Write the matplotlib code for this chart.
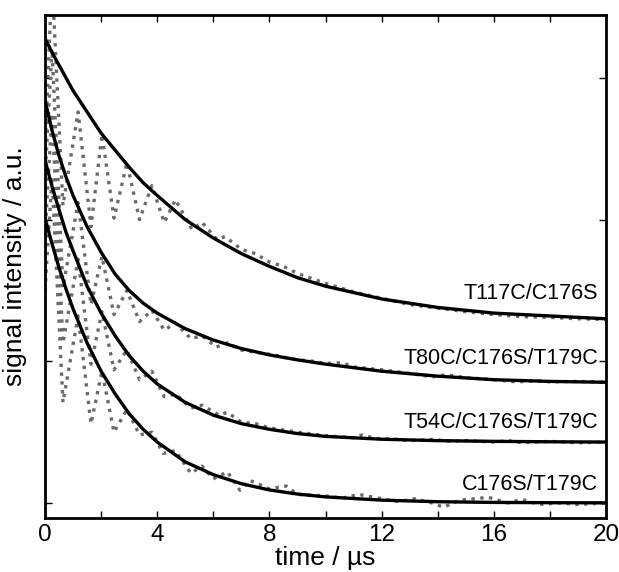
import matplotlib

matplotlib.use("Agg")
import matplotlib.pyplot as plt
import numpy as np
from matplotlib.ticker import MultipleLocator

plt.rcParams["font.family"] = ["Liberation Sans", "DejaVu Sans"]

# fitted decay curves
FIT_T = [0, 0.25, 0.5, 0.75, 1, 1.5, 2, 2.5, 3, 3.5, 4, 5, 6, 7, 8, 9, 10, 12, 14, 16, 18, 20]
FIT_T117C = [3.28, 3.18, 3.09, 3.00, 2.91, 2.76, 2.61, 2.49, 2.37, 2.26, 2.17, 2.00, 1.87,
             1.76, 1.67, 1.59, 1.53, 1.44, 1.38, 1.34, 1.32, 1.30]
FIT_T80C = [2.84, 2.63, 2.45, 2.30, 2.17, 1.95, 1.77, 1.615, 1.50, 1.41, 1.34, 1.23, 1.15,
            1.09, 1.045, 1.01, 0.98, 0.93, 0.895, 0.87, 0.858, 0.852]
FIT_T54C = [2.42, 2.235, 2.07, 1.91, 1.78, 1.53, 1.34, 1.18, 1.04, 0.93, 0.84, 0.71, 0.62,
            0.56, 0.52, 0.49, 0.47, 0.45, 0.44, 0.435, 0.432, 0.43]
FIT_C176S = [2.01, 1.83, 1.66, 1.51, 1.37, 1.13, 0.93, 0.77, 0.63, 0.52, 0.43, 0.29, 0.20,
             0.136, 0.092, 0.063, 0.043, 0.02, 0.009, 0.004, 0.002, 0.001]

# measured traces (dotted)
T_T117C = [0, 0.25, 0.64, 1.18, 1.64, 2.03, 2.46, 2.92, 3.37, 3.81, 4.25, 4.65, 5.24, 5.6,
           6.13, 6.42, 7.0, 7.5, 8.0, 8.5, 9.0, 10, 11, 12, 13, 14, 15, 16, 17, 18, 19, 20]
Y_T117C = [2.5, 3.7, 2.1, 2.76, 1.95, 2.60, 2.01, 2.40, 2.00, 2.24, 1.98, 2.14, 1.93, 1.98,
           1.86, 1.88, 1.79, 1.76, 1.70, 1.67, 1.62, 1.55, 1.49, 1.445, 1.40, 1.375, 1.35,
           1.33, 1.315, 1.31, 1.30, 1.295]

T_T80C = [0, 0.25, 0.64, 1.18, 1.64, 2.03, 2.46, 2.92, 3.37, 3.81, 4.25, 4.65, 5.2, 5.6, 6.1,
          6.5, 7, 7.6, 8, 8.5, 9, 9.6, 10, 10.6, 11, 12, 13, 13.8, 14.3, 15, 16, 16.8, 17.5,
          18, 19, 20]
Y_T80C = [2.3, 3.2, 1.52, 2.12, 1.40, 1.74, 1.33, 1.50, 1.28, 1.36, 1.22, 1.27, 1.16, 1.18,
          1.10, 1.13, 1.08, 1.06, 1.05, 1.03, 1.01, 1.00, 0.985, 0.99, 0.96, 0.94, 0.915,
          0.89, 0.905, 0.885, 0.87, 0.855, 0.862, 0.855, 0.858, 0.852]

T_T54C = [0, 0.25, 0.64, 1.18, 1.64, 2.03, 2.46, 2.92, 3.37, 3.81, 4.25, 4.65, 5.2, 5.6, 6.2,
          6.5, 7, 7.5, 8, 9, 10, 11, 11.3, 11.8, 12.5, 13, 13.9, 14.3, 15, 16, 16.5, 17, 18,
          19, 20]
Y_T54C = [1.9, 2.75, 1.13, 1.72, 0.98, 1.35, 0.94, 1.08, 0.87, 0.93, 0.75, 0.77, 0.67, 0.69,
          0.62, 0.64, 0.57, 0.56, 0.53, 0.50, 0.475, 0.46, 0.48, 0.455, 0.45, 0.44, 0.45,
          0.435, 0.44, 0.43, 0.44, 0.425, 0.435, 0.425, 0.43]

T_C176S = [0, 0.25, 0.64, 1.18, 1.64, 2.03, 2.46, 2.92, 3.37, 3.81, 4.21, 4.65, 5.2, 5.6, 6.0,
           6.5, 6.95, 7.3, 8.0, 8.6, 9.0, 10, 10.6, 11.2, 12, 12.6, 13.2, 13.8, 14.2, 14.8,
           15.8, 16.5, 17, 17.6, 18.3, 19, 20]
Y_C176S = [1.5, 2.3, 0.71, 1.32, 0.56, 0.93, 0.50, 0.66, 0.48, 0.50, 0.35, 0.37, 0.21, 0.26,
           0.17, 0.22, 0.09, 0.16, 0.10, 0.12, 0.06, 0.05, 0.035, 0.06, 0.03, 0.01, 0.03,
           0.0, -0.03, 0.02, 0.04, 0.0, 0.025, -0.01, 0.0, -0.01, 0.0]

LABELS = ["T117C/C176S", "T80C/C176S/T179C", "T54C/C176S/T179C", "C176S/T179C"]
LABEL_Y = [1.48, 1.02, 0.57, 0.127]

fig = plt.figure(figsize=(6.19, 5.72), dpi=100)
ax = fig.add_axes([0.0727, 0.0944, 0.9063, 0.8794])

data = [(T_T117C, Y_T117C), (T_T80C, Y_T80C), (T_T54C, Y_T54C), (T_C176S, Y_C176S)]
fits = [FIT_T117C, FIT_T80C, FIT_T54C, FIT_C176S]

for t, y in data:
    ax.plot(t, y, ls=":", color="#6a6a6a", lw=2.4)
for f in fits:
    ax.plot(FIT_T, f, color="black", lw=2.4)

for label, ly in zip(LABELS, LABEL_Y):
    ax.text(19.72, ly, label, ha="right", va="center", fontsize=15.5)

ax.set_xlim(0, 20)
ax.set_ylim(-0.106, 3.444)
ax.xaxis.set_major_locator(MultipleLocator(4))
ax.xaxis.set_minor_locator(MultipleLocator(2))
ax.set_yticks([0, 1, 2, 3])
ax.set_yticklabels([])
ax.tick_params(which="both", direction="in", top=True, right=True, length=5,
               width=1, labelsize=17.5, pad=4)
for s in ax.spines.values():
    s.set_linewidth(2)

ax.set_xlabel("time / µs", fontsize=19, labelpad=0)
ax.set_ylabel("signal intensity / a.u.", fontsize=19, labelpad=9)

fig.savefig("out.png", dpi=100)
